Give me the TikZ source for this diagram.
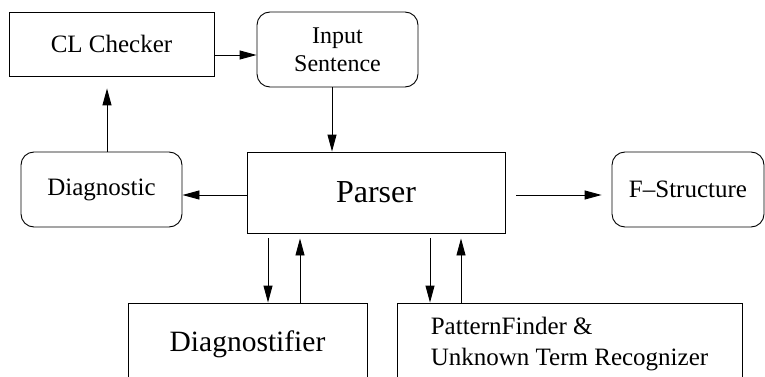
\documentclass[tikz,border=0pt]{standalone}
\usepackage{fontspec}
\setmainfont{Liberation Serif}
\usetikzlibrary{arrows.meta}
\begin{document}
\begin{tikzpicture}[x=1pt,y=-1pt,
  box/.style={draw=black,line width=0.9pt,inner sep=0pt,align=center},
  rbox/.style={box,rounded corners=13pt},
  arr/.style={draw=black,line width=0.9pt,-{Triangle[length=17pt,width=9pt]}},
  txt/.style={font=\fontsize{25}{31}\selectfont}]
\clip (0,0) rectangle (765,377);
\node[box,txt,minimum width=205pt,minimum height=64pt] (cl) at (111.5,44) {CL Checker};
\node[rbox,font=\fontsize{24}{28}\selectfont,minimum width=161pt,minimum height=75pt] (inp) at (337.5,49.5) {Input\\Sentence};
\node[rbox,txt,minimum width=161pt,minimum height=75pt] (diag) at (101.5,189.5) {Diagnostic};
\node[box,font=\fontsize{32}{38}\selectfont,minimum width=258pt,minimum height=81pt] (parser) at (376,192.5) {Parser};
\node[rbox,txt,minimum width=152pt,minimum height=75pt] (fs) at (688,189.5) {F--Structure};
\node[box,font=\fontsize{29.5}{35}\selectfont,minimum width=239pt,minimum height=82pt] (dfier) at (247.5,344) {Diagnostifier};
\node[box,txt,align=left,minimum width=345pt,minimum height=82pt] (pf) at (569.5,344) {PatternFinder \&\\Unknown Term Recognizer};
\draw[arr] ([yshift=-11pt]cl.east) -- ([yshift=-5.5pt]inp.west);
\draw[arr] ([xshift=5.5pt]diag.north) -- ([xshift=-4.5pt,yshift=-12pt]cl.south);
\draw[arr] ([xshift=-5.5pt]inp.south) -- ([xshift=-44pt]parser.north);
\draw[arr] ([yshift=-2.5pt]parser.west) -- ([yshift=-5.5pt]diag.east);
\draw[arr] ([xshift=11pt,yshift=-2.5pt]parser.east) -- ([xshift=-10pt,yshift=-5.5pt]fs.west);
\draw[arr] ([xshift=-108pt,yshift=-5pt]parser.south) -- ([xshift=20.5pt]dfier.north);
\draw[arr] ([xshift=52.5pt]dfier.north) -- ([xshift=-76pt,yshift=-5pt]parser.south);
\draw[arr] ([xshift=54pt,yshift=-5pt]parser.south) -- ([xshift=-139.5pt]pf.north);
\draw[arr] ([xshift=-108.5pt]pf.north) -- ([xshift=85pt,yshift=-5pt]parser.south);
\end{tikzpicture}
\end{document}
